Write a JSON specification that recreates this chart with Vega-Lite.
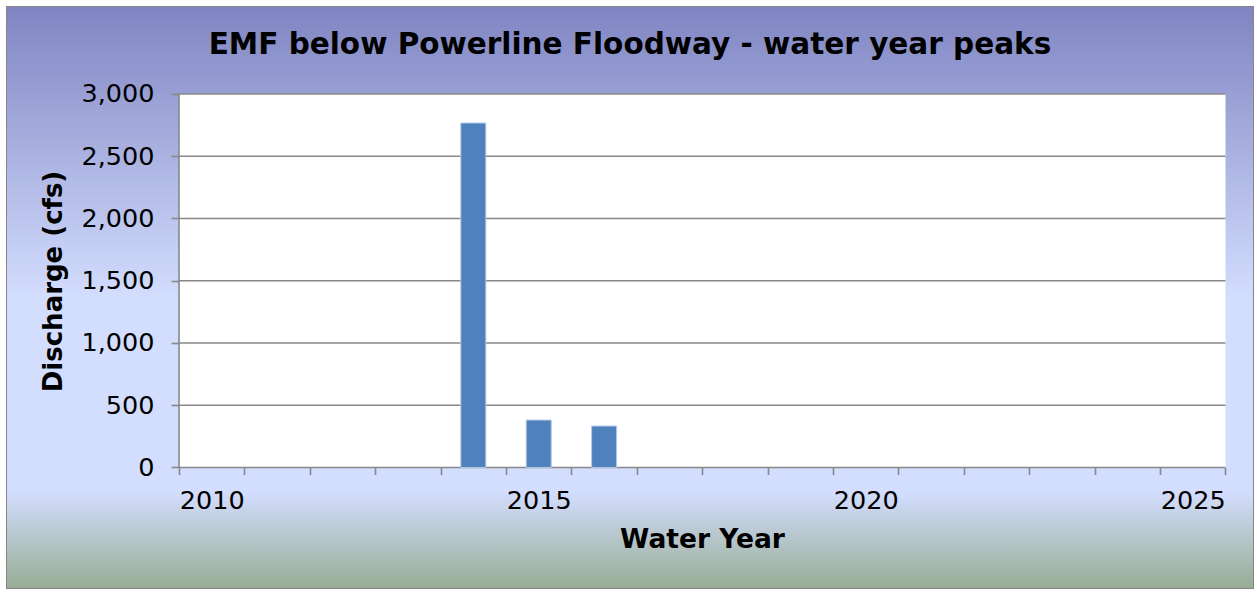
{
  "$schema": "https://vega.github.io/schema/vega-lite/v6.json",
  "width": 1246,
  "height": 581,
  "autosize": {"type": "none"},
  "padding": {"left": 7, "top": 7, "right": 4, "bottom": 4},
  "background": "white",
  "config": {
    "font": "DejaVu Sans",
    "view": {"stroke": "#868686", "strokeWidth": 2}
  },
  "title": {
    "text": "EMF below Powerline Floodway - water year peaks",
    "font": "DejaVu Sans",
    "fontSize": 29.5,
    "fontWeight": "bold",
    "color": "black",
    "anchor": "middle",
    "baseline": "alphabetic",
    "offset": -47,
    "dy": 29
  },
  "datasets": {
    "peaks": [
      {"year": 2014, "peak": 2767},
      {"year": 2015, "peak": 381},
      {"year": 2016, "peak": 333}
    ],
    "grid": [
      {"level": 0}, {"level": 500}, {"level": 1000}, {"level": 1500},
      {"level": 2000}, {"level": 2500}, {"level": 3000}
    ]
  },
  "layer": [
    {
      "data": {"values": [{}]},
      "mark": {
        "type": "rect",
        "fill": {
          "gradient": "linear",
          "x1": 0, "y1": 0, "x2": 0, "y2": 1,
          "stops": [
            {"offset": 0, "color": "#8085c2"},
            {"offset": 0.5, "color": "#d3ddfe"},
            {"offset": 0.835, "color": "#d3ddfe"},
            {"offset": 1, "color": "#98ac94"}
          ]
        }
      },
      "encoding": {
        "x": {"datum": 2006.87027, "type": "quantitative", "scale": {"domain": [2006.87027, 2025.92051], "nice": false, "zero": false, "padding": 0}},
        "x2": {"datum": 2025.92051},
        "y": {"datum": -967.9, "type": "quantitative", "scale": {"domain": [-967.9, 3698.8], "nice": false, "zero": false, "padding": 0}},
        "y2": {"datum": 3698.8}
      }
    },
    {
      "data": {"values": [{}]},
      "mark": {"type": "rect", "fill": "white"},
      "encoding": {
        "x": {"datum": 2009.5, "type": "quantitative", "scale": {"domain": [2006.87027, 2025.92051], "nice": false, "zero": false, "padding": 0}},
        "x2": {"datum": 2025.5},
        "y": {"datum": 0, "type": "quantitative", "scale": {"domain": [-967.9, 3698.8], "nice": false, "zero": false, "padding": 0}},
        "y2": {"datum": 3000}
      }
    },
    {
      "data": {"name": "grid"},
      "mark": {"type": "rule", "color": "#888888", "strokeWidth": 1.6},
      "encoding": {
        "y": {"field": "level", "type": "quantitative", "scale": {"domain": [-967.9, 3698.8], "nice": false, "zero": false, "padding": 0}},
        "x": {"datum": 2009.5, "type": "quantitative", "scale": {"domain": [2006.87027, 2025.92051], "nice": false, "zero": false, "padding": 0}},
        "x2": {"datum": 2025.5}
      }
    },
    {
      "data": {"values": [{}]},
      "mark": {"type": "rule", "color": "#888888", "strokeWidth": 1.6},
      "encoding": {
        "x": {"datum": 2009.5, "type": "quantitative", "scale": {"domain": [2006.87027, 2025.92051], "nice": false, "zero": false, "padding": 0}},
        "y": {"datum": 0, "type": "quantitative", "scale": {"domain": [-967.9, 3698.8], "nice": false, "zero": false, "padding": 0}},
        "y2": {"datum": 3000}
      }
    },
    {
      "data": {"name": "peaks"},
      "mark": {"type": "bar", "width": 25, "fill": "#4f81bd", "stroke": "#b4c8e6", "strokeWidth": 1},
      "encoding": {
        "x": {
          "field": "year", "type": "quantitative",
          "scale": {"domain": [2006.87027, 2025.92051], "nice": false, "zero": false, "padding": 0},
          "axis": {
            "values": [2009.5, 2010.5, 2011.5, 2012.5, 2013.5, 2014.5, 2015.5, 2016.5, 2017.5, 2018.5, 2019.5, 2020.5, 2021.5, 2022.5, 2023.5, 2024.5, 2025.5],
            "labelExpr": "(datum.value - 0.5) % 5 == 0 ? format(datum.value - 0.5, 'd') : ''",
            "labelOffset": -32.7,
            "orient": "bottom",
            "offset": -120.5,
            "zindex": 1,
            "domain": false,
            "grid": false,
            "tickColor": "#888888",
            "tickWidth": 1.6,
            "tickSize": 7,
            "labelFont": "DejaVu Sans",
            "labelFontSize": 25.5,
            "labelColor": "black",
            "labelPadding": 14,
            "labelFlush": false,
            "labelOverlap": false,
            "labelAngle": 0,
            "labelBaseline": "top",
            "title": "Water Year",
            "titleFont": "DejaVu Sans",
            "titleFontSize": 26.5,
            "titleFontWeight": "bold",
            "titleColor": "black",
            "titleX": 695,
            "titleY": 80,
            "titleBaseline": "alphabetic",
            "titleAlign": "center"
          }
        },
        "y": {
          "field": "peak", "type": "quantitative",
          "scale": {"domain": [-967.9, 3698.8], "nice": false, "zero": false, "padding": 0},
          "axis": {
            "values": [0, 500, 1000, 1500, 2000, 2500, 3000],
            "labelExpr": "format(datum.value, ',')",
            "orient": "left",
            "offset": -172,
            "zindex": 1,
            "domain": false,
            "grid": false,
            "tickColor": "#888888",
            "tickWidth": 1.6,
            "tickSize": 8,
            "labelFont": "DejaVu Sans",
            "labelFontSize": 25.5,
            "labelColor": "black",
            "labelPadding": 17,
            "labelFlush": false,
            "labelOverlap": false,
            "title": "Discharge (cfs)",
            "titleFont": "DejaVu Sans",
            "titleFontSize": 26,
            "titleFontWeight": "bold",
            "titleColor": "black",
            "titleX": -118,
            "titleY": 274,
            "titleBaseline": "alphabetic",
            "titleAngle": -90,
            "titleAlign": "center"
          }
        },
        "y2": {"datum": 0}
      }
    }
  ]
}
